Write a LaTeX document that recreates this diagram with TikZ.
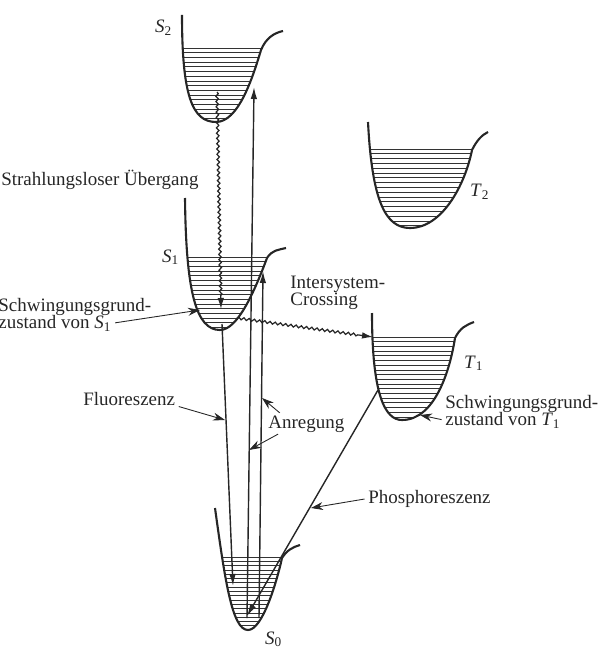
\documentclass[tikz,border=0pt]{standalone}
\usepackage{fontspec}
\setmainfont{Liberation Serif}
\usetikzlibrary{arrows.meta, decorations.pathmorphing}
\newcommand{\niveau}[2]{\textit{#1}\textsubscript{#2}}
% potential wells (pixel coordinates)
\newcommand{\wellSzwei}{(182,15) .. controls (182,95) and (192,122) .. (216,122) .. controls (238,122) and (252,80) .. (261,50) .. controls (266,38) and (274,33) .. (283,31)}
\newcommand{\wellSeins}{(185,198) .. controls (186,292) and (196,330) .. (220,330) .. controls (238,330) and (255,290) .. (267,258) .. controls (272,250) and (278,250) .. (286,248)}
\newcommand{\wellSnull}{(215,508) .. controls (225,580) and (232,630) .. (248,630) .. controls (262,630) and (276,585) .. (282,558) .. controls (287,550) and (293,547) .. (300,545)}
\newcommand{\wellTzwei}{(368,122) .. controls (372,200) and (385,228) .. (410,228) .. controls (442,228) and (465,185) .. (472,150) .. controls (477,140) and (482,135) .. (488,132)}
\newcommand{\wellTeins}{(372,313) .. controls (372,395) and (385,420) .. (402,420) .. controls (435,420) and (450,370) .. (455,338) .. controls (460,328) and (466,325) .. (474,322)}

\begin{document}
\begin{tikzpicture}[
  x=0.02cm, y=-0.02cm,
  every node/.style = {font=\fontsize{10.8}{10}\selectfont, inner sep=1pt, text=black!85},
  txt/.style = {align=left, inner sep=0pt},
  well/.style = {line width=1.2pt, draw=black!85},
  vib/.style = {line width=0.45pt, draw=black!80},
  trans/.style = {line width=0.8pt, draw=black!85, -{Latex[length=2.4mm, width=1.3mm]}},
  wavy/.style = {line width=0.7pt, draw=black!85, -{Latex[length=2.2mm, width=1.3mm]},
    decorate, decoration={snake, amplitude=0.7pt, segment length=3pt, post length=2.6mm}},
  pointer/.style = {line width=0.5pt, draw=black!85, shorten <=2pt, -{Stealth[length=2.4mm, width=1.6mm]}}
]
  \useasboundingbox (0,0) rectangle (602,648);
  \clip (0,0) rectangle (602,648);

  % vibrational levels
  \begin{scope}
    \clip \wellSzwei -- cycle;
    \foreach \y in {48,52.7,...,120} \draw[vib] (150,\y) -- (300,\y);
  \end{scope}
  \begin{scope}
    \clip \wellSeins -- cycle;
    \foreach \y in {257,261.7,...,329} \draw[vib] (150,\y) -- (300,\y);
  \end{scope}
  \begin{scope}
    \clip \wellSnull -- cycle;
    \foreach \y in {557,561.3,...,628} \draw[vib] (200,\y) -- (310,\y);
  \end{scope}
  \begin{scope}
    \clip \wellTzwei -- cycle;
    \foreach \y in {149,153.8,...,226} \draw[vib] (350,\y) -- (500,\y);
  \end{scope}
  \begin{scope}
    \clip \wellTeins -- cycle;
    \foreach \y in {337,341.7,...,418} \draw[vib] (350,\y) -- (500,\y);
  \end{scope}

  \draw[well] \wellSzwei;
  \draw[well] \wellSeins;
  \draw[well] \wellSnull;
  \draw[well] \wellTzwei;
  \draw[well] \wellTeins;

  \node[anchor=base west] (s2) at (153,33) {\niveau{S}{2}};
  \node[anchor=base west] (s1) at (160,262) {\niveau{S}{1}};
  \node[anchor=base west] (s0) at (263,644) {\niveau{S}{0}};
  \node[anchor=base west] (t2) at (468,197) {\niveau{T}{2}};
  \node[anchor=base west] (t1) at (462,368) {\niveau{T}{1}};

  % end points of the transitions
  \coordinate (s2in) at (217,92);
  \coordinate (s1in) at (221,309);
  \coordinate (s1gs) at (222,324);
  \coordinate (s0fl) at (233,586);
  \coordinate (s0a) at (247,618);
  \coordinate (s2ex) at (254,87);
  \coordinate (s0b) at (259,618);
  \coordinate (s1ex) at (263,271);
  \coordinate (s1isc) at (237,318);
  \coordinate (t1isc) at (373,337);
  \coordinate (t1ph) at (378,390);
  \coordinate (s0ph) at (247,616);

  \draw[wavy] (s2in) -- (s1in);
  \draw[wavy] (s1isc) -- (t1isc);
  \draw[trans] (s0a) -- (s2ex);
  \draw[trans] (s0b) -- (s1ex);
  \draw[trans] (s1gs) -- (s0fl);
  \draw[trans] (t1ph) -- (s0ph);

  % labels
  \node[txt, anchor=base west] (strahl) at (1,186) {Strahlungsloser Übergang};
  \node[txt, anchor=base west] (sgs1a) at (-2,311) {Schwingungsgrund-};
  \node[txt, anchor=base west] (sgs1b) at (-2,328.5) {zustand von \niveau{S}{1}};
  \node[txt, anchor=base west] (isca) at (290,288) {Intersystem-};
  \node[txt, anchor=base west] (iscb) at (290,305.5) {Crossing};
  \node[txt, anchor=base west] (fluo) at (83,405) {Fluoreszenz};
  \node[txt, anchor=base west] (anr) at (268,428) {Anregung};
  \node[txt, anchor=base west] (phos) at (368,503) {Phosphoreszenz};
  \node[txt, anchor=base west] (sgt1a) at (445,408) {Schwingungsgrund-};
  \node[txt, anchor=base west] (sgt1b) at (445,425.5) {zustand von \niveau{T}{1}};

  \coordinate (s1wall) at (200,310);
  \coordinate (flhit) at (225,420);
  \coordinate (exhitA) at (262,398);
  \coordinate (exhitB) at (249,450);
  \coordinate (phhit) at (311,508);
  \coordinate (t1wall) at (420,415);

  \draw[pointer] (sgs1b.east) -- (s1wall);
  \draw[pointer] (fluo.south east) -- (flhit);
  \draw[pointer] (anr.160) -- (exhitA);
  \draw[pointer] (anr.199) -- (exhitB);
  \draw[pointer] (phos.west) -- (phhit);
  \draw[pointer] (sgt1b.west) -- (t1wall);
\end{tikzpicture}
\end{document}
